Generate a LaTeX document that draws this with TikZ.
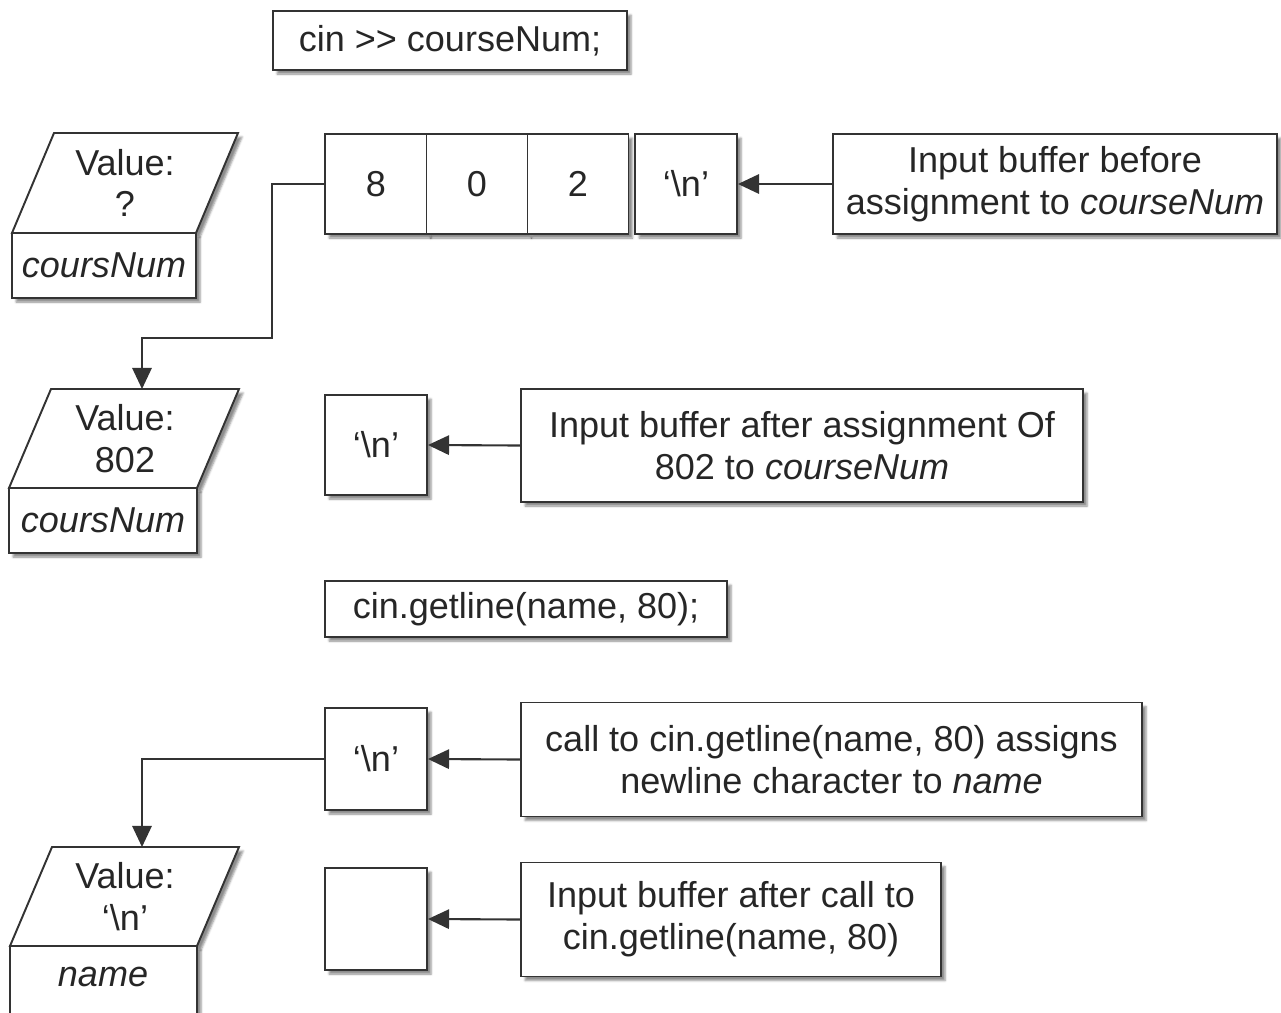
\documentclass[tikz,border=0pt]{standalone}
\usepackage{fontspec}
\setmainfont{Liberation Sans}
\usetikzlibrary{arrows.meta,shadows.blur}
\begin{document}
\begin{tikzpicture}[x=0.02cm,y=-0.02cm,
  txt/.style={font=\fontsize{20.5}{23.8}\selectfont, text=black!85, align=center, inner sep=0pt},
  shad/.style={blur shadow={shadow xshift=2.3pt, shadow yshift=-2.3pt, shadow blur radius=1.2pt, shadow opacity=45}},
  box/.style={txt, draw=black!80, line width=1.1pt, fill=white, shad},
  shp/.style={draw=black!80, line width=1.1pt, fill=white, line join=miter, shad},
  arr/.style={draw=black!80, line width=1.2pt, -{Triangle[length=12pt,width=11pt]}},
]
\useasboundingbox (0,0) rectangle (1281,1012);

% code boxes
\node[box, minimum width=7.08cm, minimum height=1.18cm] (code1) at (450,40.5) {cin \textgreater\kern0pt\textgreater{} courseNum;};
\node[box, minimum width=8.04cm, minimum height=1.12cm] (code2) at (526,609) {cin.getline(name, 80);};

% variable 1
\draw[shp] (54,133) -- (238,133) -- (196,233) -- (12,233) -- cycle;
\draw[shp] (12,233) rectangle (196,298);
\node[txt] (v1val) at (125,183) {Value:\\?};
\node[txt] (v1name) at (104,265.5) {\textit{coursNum}};

% variable 2
\draw[shp] (51,389) -- (239,389) -- (197,488) -- (9,488) -- cycle;
\draw[shp] (9,488) rectangle (197,553);
\coordinate (v2top) at (142,389);
\node[txt] (v2val) at (125,438.5) {Value:\\802};
\node[txt] (v2name) at (103,520.5) {\textit{coursNum}};

% variable 3
\draw[shp] (52,847) -- (239,847) -- (197,946) -- (10,946) -- cycle;
\draw[shp] (10,946) rectangle (197,1030);
\coordinate (v3top) at (142,847);
\node[txt] (v3val) at (125,896.5) {Value:\\‘\textbackslash n’};
\node[txt] (v3name) at (103,977) {\textit{name}};

% buffer row 1
\node[box, minimum width=2.04cm, minimum height=2cm] (c8) at (376,184) {8};
\node[box, minimum width=2.02cm, minimum height=2cm] (c0) at (477,184) {0};
\node[box, minimum width=2.02cm, minimum height=2cm] (c2) at (578,184) {2};
\node[box, minimum width=2.04cm, minimum height=2cm] (cn1) at (686,184) {‘\textbackslash n’};
\node[box, minimum width=8.88cm, minimum height=2cm] (b1) at (1055,184) {Input buffer before\\assignment to \textit{courseNum}};

% buffer row 2
\node[box, minimum width=2.04cm, minimum height=2cm] (cn2) at (376,445) {‘\textbackslash n’};
\node[box, minimum width=11.24cm, minimum height=2.26cm] (b2) at (802,445.5) {Input buffer after assignment Of\\802 to \textit{courseNum}};

% buffer row 3
\node[box, minimum width=2.04cm, minimum height=2.04cm] (cn3) at (376,759) {‘\textbackslash n’};
\node[box, minimum width=12.42cm, minimum height=2.28cm] (b3) at (831.5,759.5) {call to cin.getline(name, 80) assigns\\newline character to \textit{name}};

% buffer row 4
\node[box, minimum width=2.04cm, minimum height=2.04cm] (ce) at (376,919) {};
\node[box, minimum width=8.4cm, minimum height=2.28cm] (b4) at (731,919.5) {Input buffer after call to\\cin.getline(name, 80)};

% connectors
\draw[arr] (b1.west) -- (cn1.east);
\draw[arr] (b2.west) -- (cn2.east);
\draw[arr] (b3.west) -- (cn3.east);
\draw[arr] (b4.west) -- (ce.east);
\draw[arr] (c8.west) -- (272,184) |- (142,338) -- (v2top);
\draw[arr] (cn3.west) -| (v3top);
\end{tikzpicture}
\end{document}
